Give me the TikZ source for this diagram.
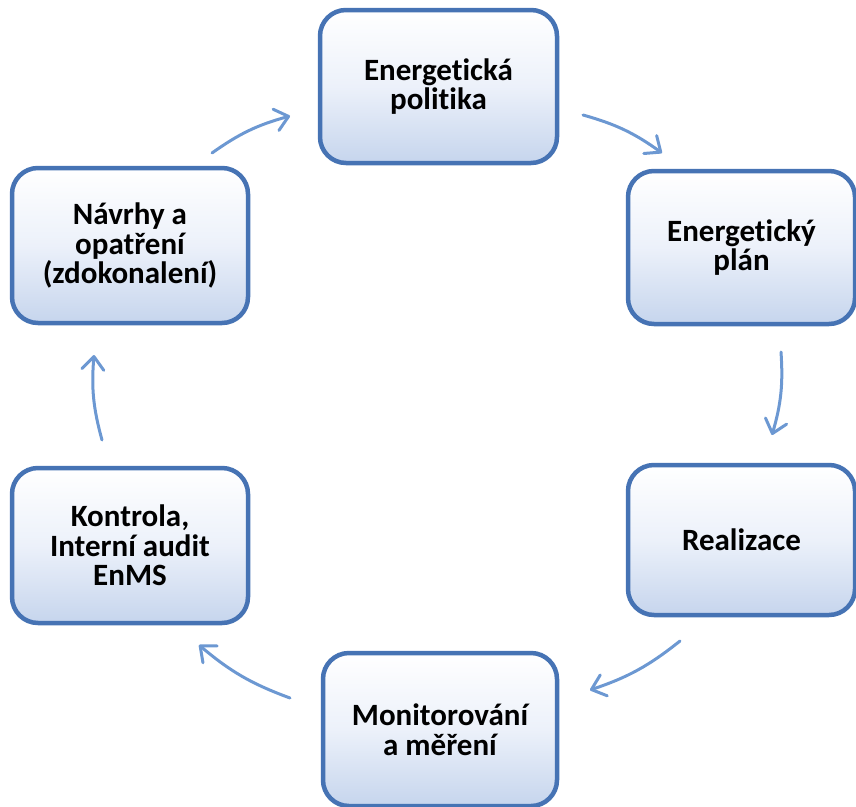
\documentclass[tikz,border=0pt]{standalone}
\usepackage{fontspec}
\setmainfont{Carlito}[Ligatures=NoCommon]
\usetikzlibrary{arrows.meta,shadings}
\definecolor{boxline}{RGB}{70,115,180}
\definecolor{boxbot}{RGB}{198,213,237}
\definecolor{boxmid}{RGB}{236,241,250}
\definecolor{arrcol}{RGB}{108,152,210}
\begin{document}
\begin{tikzpicture}[x=1pt,y=-1pt,
  cyclebox/.style={draw=boxline, line width=4.5pt, rounded corners=26pt,
    top color=white, bottom color=boxbot, middle color=boxmid,
    align=center, inner sep=0pt, outer sep=0pt,
    font=\bfseries\fontsize{31}{29.5}\selectfont, text=black},
  cyclearrow/.style={draw=arrcol, line width=3pt, line cap=round,
    -{Straight Barb[length=13pt,width=22pt,round]}, bend left=10}]
\useasboundingbox (0,0) rectangle (856,806);

\node[cyclebox, minimum width=237pt, minimum height=153pt] (A) at (438.5,86.5) {Energetická\\politika};
\node[cyclebox, minimum width=227pt, minimum height=153pt] (B) at (741.5,247.5) {Energetický\\plán};
\node[cyclebox, minimum width=227pt, minimum height=150pt] (C) at (741.5,540) {Realizace};
\node[cyclebox, minimum width=234pt, minimum height=153pt] (D) at (440,729.5) {Monitorování\\a měření};
\node[cyclebox, minimum width=236pt, minimum height=155pt] (E) at (130,545.5) {Kontrola,\\Interní audit\\EnMS};
\node[cyclebox, minimum width=236pt, minimum height=155pt] (F) at (130,245.5) {Návrhy a\\opatření\\(zdokonalení)};

\coordinate (t1) at (212,153); \coordinate (h1) at (290,116);
\coordinate (t2) at (583,115); \coordinate (h2) at (662,153);
\coordinate (t3) at (781,352); \coordinate (h3) at (772,435);
\coordinate (t4) at (680,641); \coordinate (h4) at (590,690);
\coordinate (t5) at (290,698); \coordinate (h5) at (199,645);
\coordinate (t6) at (102,440); \coordinate (h6) at (94,355);

\draw[cyclearrow] (t1) to (h1);
\draw[cyclearrow] (t2) to (h2);
\draw[cyclearrow] (t3) to (h3);
\draw[cyclearrow] (t4) to (h4);
\draw[cyclearrow] (t5) to (h5);
\draw[cyclearrow] (t6) to (h6);
\end{tikzpicture}
\end{document}
